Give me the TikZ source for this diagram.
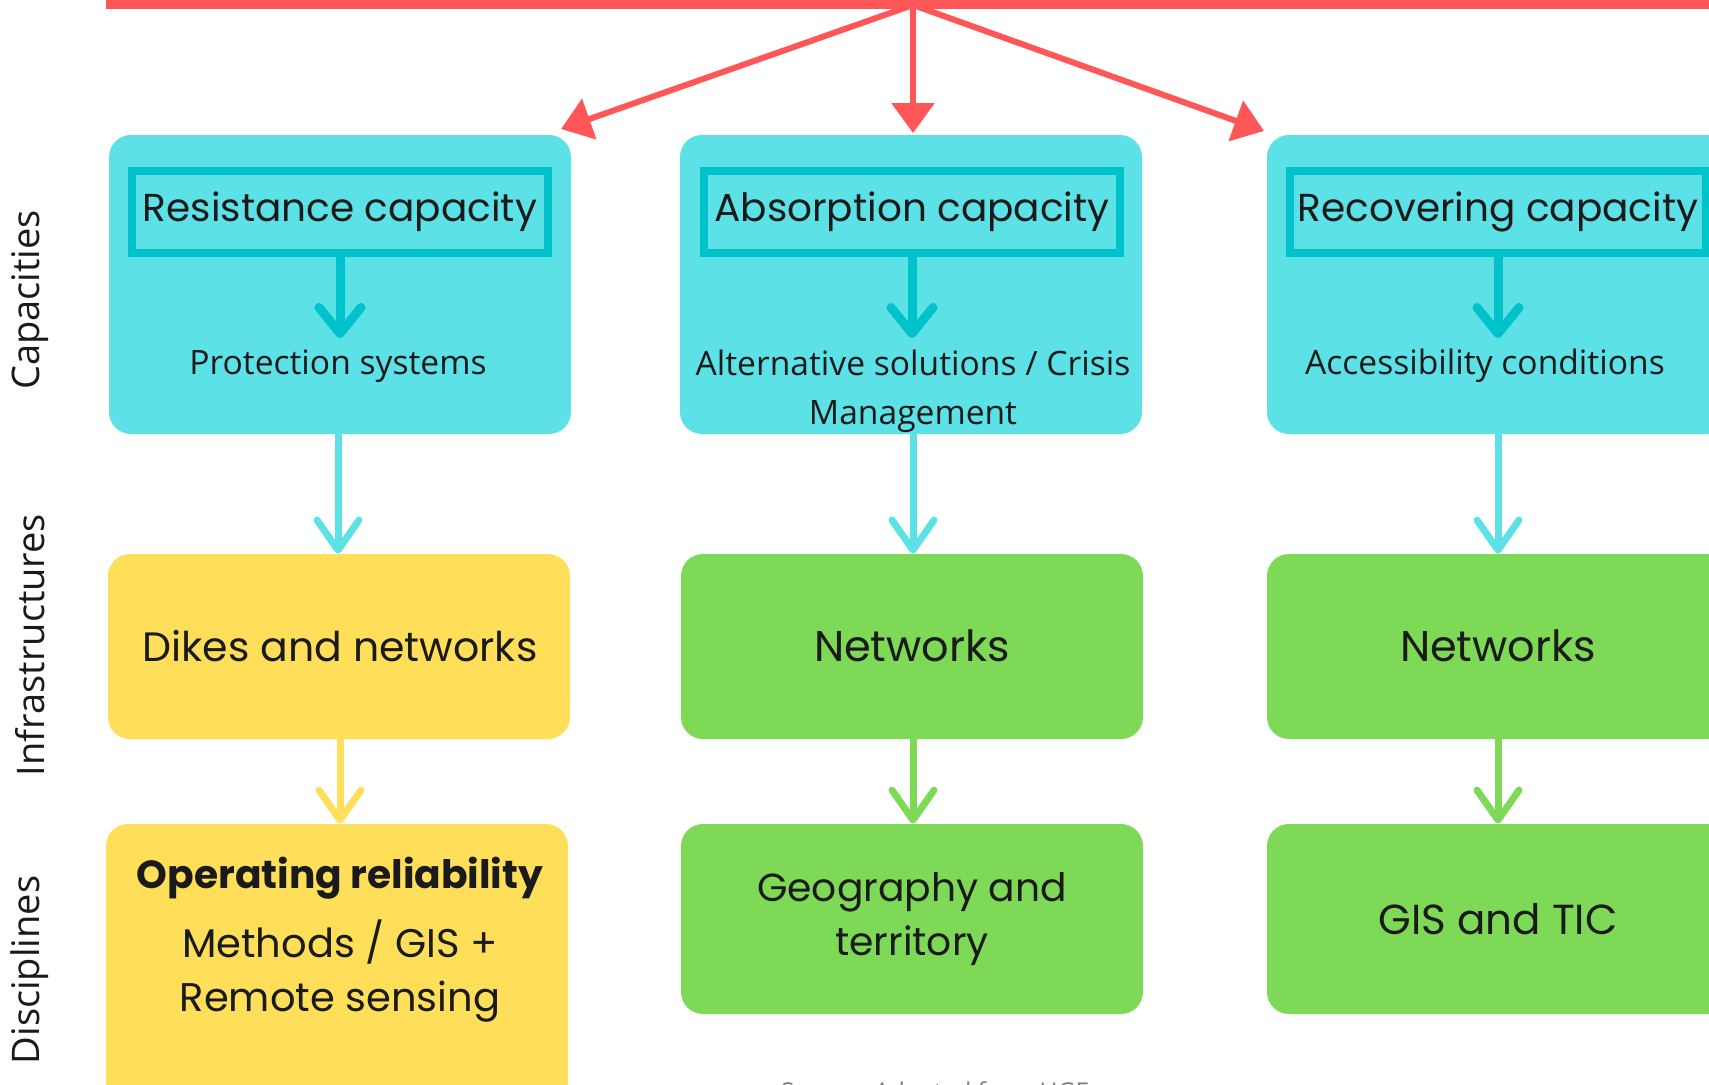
\documentclass[tikz,border=0pt]{standalone}
\usepackage{fontspec}
\setmainfont{Poppins}
\newfontfamily\osans{Open Sans}
\usetikzlibrary{arrows.meta}
\definecolor{cyanbox}{HTML}{5CE1E6}
\definecolor{cyandark}{HTML}{00C2CB}
\definecolor{redc}{HTML}{FF5757}
\definecolor{yel}{HTML}{FFDE59}
\definecolor{grn}{HTML}{7ED957}
\definecolor{txt}{HTML}{1A1A1A}
\def\u{0.5pt}
\begin{document}
\begin{tikzpicture}[x=0.5pt,y=-0.5pt,
  boxbase/.style={rounded corners=11pt, inner sep=0pt, draw=none, minimum width=462*\u},
  capbox/.style={boxbase, fill=cyanbox, minimum height=299*\u},
  infbox/.style={boxbase, minimum height=185*\u},
  disbox/.style={boxbase, minimum height=190*\u},
  innerrect/.style={draw=cyandark, line width=4pt, minimum width=416*\u, minimum height=82*\u, inner sep=0pt, font=\fontsize{19.5}{22}\selectfont, text=txt},
  subtext/.style={font=\osans\fontsize{16.8}{24.5}\selectfont, text=txt, align=center, inner sep=0pt},
  maintext/.style={font=\fontsize{20.5}{25}\selectfont, text=txt, align=center, inner sep=0pt},
  sidelabel/.style={rotate=90, font=\osans\fontsize{19}{22}\selectfont, text=txt, inner sep=0pt},
  redarrow/.style={draw=redc, line width=3pt, -{Triangle[length=15pt,width=21pt]}},
  innerarrow/.style={draw=cyandark, line width=4.5pt, -{Straight Barb[length=13pt,width=21pt,round]}},
  linkarrow/.style={line width=3.5pt, -{Straight Barb[length=15pt,width=21pt,round]}}
]
\useasboundingbox (0,0) rectangle (1709,1084);
\clip (0,0) rectangle (1709,1084);
\fill[white] (0,0) rectangle (1709,1084);

% top red bar
\fill[redc] (106,0) rectangle (1709,9);
\coordinate (src) at (913,5);
\coordinate (ta) at (561,129);
\coordinate (tb) at (913,133);
\coordinate (tc) at (1264,131);
\draw[redarrow] (src) -- (ta);
\draw[redarrow] (src) -- (tb);
\draw[redarrow] (src) -- (tc);

% capacities row
\node[capbox] (c1) at (340,284.5) {};
\node[capbox] (c2) at (911,284.5) {};
\node[capbox] (c3) at (1498,284.5) {};

\node[innerrect] (i1) at (340,212) {Resistance capacity};
\node[innerrect] (i2) at (912,212) {Absorption capacity};
\node[innerrect] (i3) at (1498,212) {Recovering capacity};

\node[subtext] (p1) at (338,366) {Protection systems};
\node[subtext, anchor=north] (p2) at (913,350) {Alternative solutions / Crisis\\Management};
\node[subtext] (p3) at (1485,366) {Accessibility conditions};

\coordinate (t1) at (340,338);
\coordinate (t2) at (912,338);
\coordinate (t3) at (1498,338);
\draw[innerarrow] (i1.south) -- (t1);
\draw[innerarrow] (i2.south) -- (t2);
\draw[innerarrow] (i3.south) -- (t3);

% infrastructures row
\node[infbox, fill=yel] (r1) at (339,646.5) {};
\node[infbox, fill=grn] (r2) at (912,646.5) {};
\node[infbox, fill=grn] (r3) at (1498,646.5) {};
\node[maintext] (n1) at (340,646) {Dikes and networks};
\node[maintext, font=\fontsize{21.5}{25}\selectfont] (n2) at (912,646) {Networks};
\node[maintext, font=\fontsize{21.5}{25}\selectfont] (n3) at (1498,646) {Networks};

\draw[linkarrow, draw=cyanbox] (c1.south -| 338,0) -- (r1.north -| 338,0);
\draw[linkarrow, draw=cyanbox] (c2.south -| 913,0) -- (r2.north -| 913,0);
\draw[linkarrow, draw=cyanbox] (c3.south) -- (r3.north);

% disciplines row
\node[boxbase, fill=yel, minimum height=290*\u] (d1) at (337,969) {};
\node[disbox, fill=grn] (d2) at (912,919) {};
\node[disbox, fill=grn] (d3) at (1498,919) {};

\node[maintext, font=\fontsize{19.6}{25}\selectfont\bfseries] (o1) at (340,878) {Operating reliability};
\node[maintext, font=\fontsize{20}{27}\selectfont] (o2) at (340,971) {Methods / GIS +\\Remote sensing};
\node[maintext, font=\fontsize{19.6}{27}\selectfont] (g2) at (912,919) {Geography and\\territory};
\node[maintext, font=\fontsize{21}{25}\selectfont] (g3) at (1498,919) {GIS and TIC};

\draw[linkarrow, draw=yel] (r1.south -| 340,0) -- (d1.north -| 340,0);
\draw[linkarrow, draw=grn] (r2.south -| 913,0) -- (d2.north -| 913,0);
\draw[linkarrow, draw=grn] (r3.south) -- (d3.north);

% side labels
\node[sidelabel] (l1) at (30,300) {Capacities};
\node[sidelabel] (l2) at (30,645) {Infrastructures};
\node[sidelabel] (l3) at (30,970) {Disciplines};

% source (cut off at the bottom edge, as in the reference)
\node[font=\osans\fontsize{12.3}{15}\selectfont, text=gray, anchor=north] (srcnote) at (935,1075) {Source: Adapted from UGE};
\end{tikzpicture}
\end{document}
